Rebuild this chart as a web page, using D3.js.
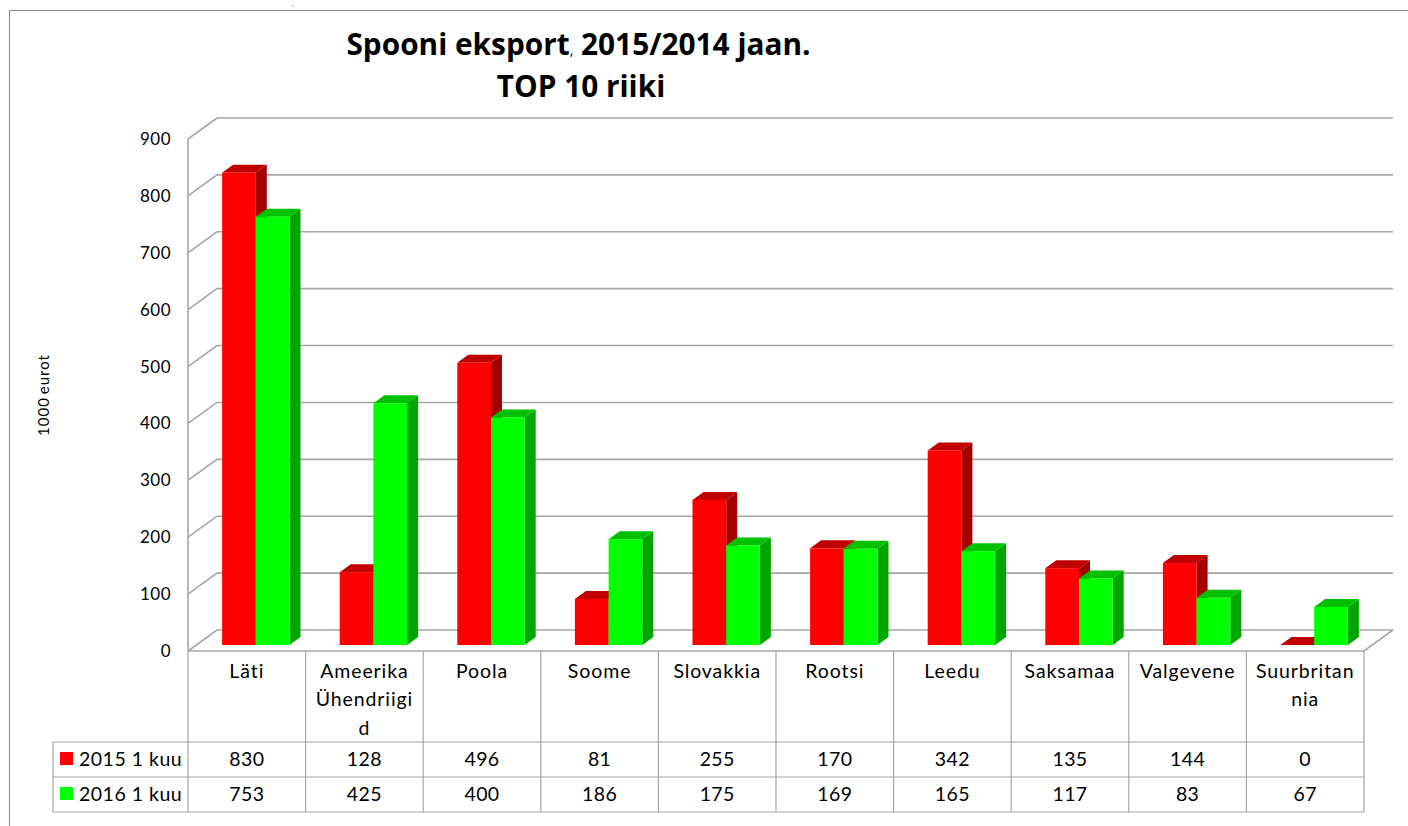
<!DOCTYPE html>
<html>
<head>
<meta charset="utf-8">
<script src="https://d3js.org/d3.v7.min.js"></script>
<style>
  body { margin: 0; background: #fff; }
  text { font-family: Lato, "Open Sans", sans-serif; fill: #000; }
</style>
</head>
<body>
<div id="chart"></div>
<script>
// chart values
var categories = ["Läti", "Ameerika Ühendriigid", "Poola", "Soome", "Slovakkia", "Rootsi", "Leedu", "Saksamaa", "Valgevene", "Suurbritannia"];
var categoryLines = [["Läti"], ["Ameerika", "Ühendriigi", "d"], ["Poola"], ["Soome"], ["Slovakkia"], ["Rootsi"], ["Leedu"], ["Saksamaa"], ["Valgevene"], ["Suurbritan", "nia"]];
var values2015 = [830, 128, 496, 81, 255, 170, 342, 135, 144, 0];
var values2016 = [753, 425, 400, 186, 175, 169, 165, 117, 83, 67];
var seriesNames = ["2015 1 kuu", "2016 1 kuu"];
var yTicks = [0, 100, 200, 300, 400, 500, 600, 700, 800, 900];

var svgWidth = 1408;
var svgHeight = 826;

// floor of the 3d box, front edge and back edge
var plot = { left: 188, right: 1364, front: 651, top: 139, depthX: 29, depthY: 21 };
var table = { left: 53, row0: 742, row1: 777, row2: 812 };
var barDepth = { x: 11, y: 8 };
var barOffset = { x: 9, y: 6 };

var colors = [
  { front: "#ff0000", top: "#c00000", side: "#a50000" },
  { front: "#00ff00", top: "#00c000", side: "#00a500" }
];
var gridColor = "#a6a6a6";
var rows = [values2015, values2016];

var svg = d3.select("#chart")
  .append("svg")
  .attr("width", svgWidth)
  .attr("height", svgHeight)
  .style("display", "block");

// outer chart frame
svg.append("path")
  .attr("d", "M9.5,826V10.5H1408")
  .attr("fill", "none")
  .attr("stroke", "#8c8c8c");

// little mark at the top edge of the picture
svg.append("text")
  .attr("x", 292)
  .attr("y", 6)
  .attr("font-size", 6)
  .text(",");

// title
svg.append("text")
  .attr("x", 578.5)
  .attr("y", 55)
  .attr("text-anchor", "middle")
  .style("font-family", "'Open Sans'")
  .attr("font-size", 29.8)
  .attr("font-weight", 700)
  .html('Spooni eksport<tspan font-size="14" font-weight="400">,</tspan> 2015/2014 jaan.');
svg.append("text")
  .attr("x", 581)
  .attr("y", 97)
  .attr("text-anchor", "middle")
  .style("font-family", "'Open Sans'")
  .attr("font-size", 29.8)
  .attr("font-weight", 700)
  .text("TOP 10 riiki");

// scales
var xScale = d3.scaleBand()
  .domain(categories)
  .range([plot.left, plot.right]);

var yScale = d3.scaleLinear()
  .domain([0, 900])
  .range([plot.front, plot.top]);

var seriesScale = d3.scaleBand()
  .domain([0, 1])
  .range([0, 67.4]);

// gridlines: diagonal on the side wall, then along the back wall
var grid = svg.append("g")
  .attr("fill", "none")
  .attr("stroke", gridColor)
  .attr("stroke-width", 1.6);

grid.selectAll(".gridline")
  .data(yTicks)
  .enter()
  .append("path")
  .attr("class", "gridline")
  .attr("d", function(d) {
    var y = yScale(d);
    return "M" + plot.left + "," + y +
      "L" + (plot.left + plot.depthX) + "," + (y - plot.depthY) +
      "H" + (plot.right + plot.depthX);
  });

// floor front and right edges, plus the vertical axis
grid.append("path")
  .attr("d", "M" + plot.left + "," + plot.front + "H" + plot.right +
    "L" + (plot.right + plot.depthX) + "," + (plot.front - plot.depthY));
grid.append("path")
  .attr("d", "M" + plot.left + "," + yScale(900) + "V" + plot.front);

// y axis labels
var yAxis = d3.axisLeft(yScale)
  .tickValues(yTicks)
  .tickSize(0)
  .tickPadding(17);

var yAxisGroup = svg.append("g")
  .attr("transform", "translate(" + plot.left + ",0)")
  .call(yAxis);
yAxisGroup.select(".domain").remove();
yAxisGroup.selectAll("text")
  .attr("font-size", 17)
  .style("font-family", "Lato")
  .style("letter-spacing", "0.5px");

// y axis title
svg.append("text")
  .attr("transform", "translate(49,395) rotate(-90)")
  .attr("text-anchor", "middle")
  .attr("font-size", 15)
  .style("letter-spacing", "1px")
  .style("word-spacing", "-2px")
  .text("1000 eurot");

// one 3d bar = side + top + front
function drawBar(group, category, value, s) {
  var width = seriesScale.bandwidth();
  var x0 = xScale(category) + (xScale.bandwidth() - seriesScale.step() * 2) / 2 + seriesScale(s) + barOffset.x;
  var x1 = x0 + width;
  var yBase = yScale(0) - barOffset.y;
  var yTop = yScale(value) - barOffset.y;

  group.append("polygon")
    .attr("fill", colors[s].side)
    .attr("points", [[x1, yBase], [x1 + barDepth.x, yBase - barDepth.y], [x1 + barDepth.x, yTop - barDepth.y], [x1, yTop]].join(" "));
  group.append("polygon")
    .attr("fill", colors[s].top)
    .attr("points", [[x0, yTop], [x0 + barDepth.x, yTop - barDepth.y], [x1 + barDepth.x, yTop - barDepth.y], [x1, yTop]].join(" "));
  group.append("rect")
    .attr("x", x0)
    .attr("y", yTop)
    .attr("width", width)
    .attr("height", yBase - yTop)
    .attr("fill", colors[s].front);
}

// paint left to right, red under green, so the faces overlap correctly
var barsGroup = svg.append("g");
categories.forEach(function(category, i) {
  rows.forEach(function(values, s) {
    drawBar(barsGroup, category, values[i], s);
  });
});

// data table under the chart
var tableLines = svg.append("g")
  .attr("fill", "none")
  .attr("stroke", "#a6a6a6")
  .attr("stroke-width", 1.2);

d3.range(categories.length + 1).forEach(function(i) {
  var x = i < categories.length ? xScale(categories[i]) : plot.right;
  tableLines.append("line")
    .attr("x1", x).attr("x2", x)
    .attr("y1", plot.front).attr("y2", table.row2);
});
[table.row0, table.row1, table.row2].forEach(function(y) {
  tableLines.append("line")
    .attr("x1", table.left).attr("x2", plot.right)
    .attr("y1", y).attr("y2", y);
});
tableLines.append("line")
  .attr("x1", table.left).attr("x2", table.left)
  .attr("y1", table.row0).attr("y2", table.row2);

// category names, wrapped like in the original
categories.forEach(function(category, i) {
  var cx = xScale(category) + xScale.bandwidth() / 2;
  categoryLines[i].forEach(function(line, j) {
    svg.append("text")
      .attr("x", cx)
      .attr("y", 678 + j * 28.3)
      .attr("text-anchor", "middle")
      .attr("font-size", 19.5)
      .style("letter-spacing", "0.9px")
      .text(line);
  });
});

// legend keys, series names and values
rows.forEach(function(values, s) {
  var rowTop = s === 0 ? table.row0 : table.row1;
  var textY = rowTop + 24;

  svg.append("rect")
    .attr("x", 60)
    .attr("y", rowTop + 10)
    .attr("width", 13)
    .attr("height", 13)
    .attr("fill", colors[s].front);

  svg.append("text")
    .attr("x", 79)
    .attr("y", textY)
    .attr("font-size", 19.5)
    .style("letter-spacing", "0.5px")
    .text(seriesNames[s]);

  values.forEach(function(value, i) {
    svg.append("text")
      .attr("x", xScale(categories[i]) + xScale.bandwidth() / 2)
      .attr("y", textY)
      .attr("text-anchor", "middle")
      .attr("font-size", 19.5)
      .style("letter-spacing", "0.4px")
      .text(value);
  });
});
</script>
</body>
</html>
